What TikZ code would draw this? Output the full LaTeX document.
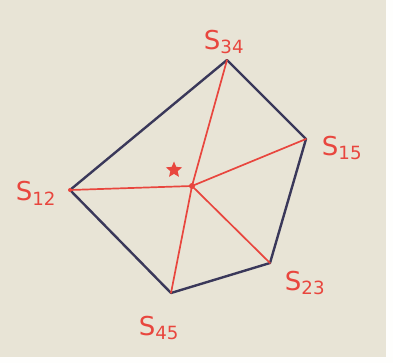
\documentclass[tikz,border=0pt]{standalone}
\usepackage{fontspec}
\setsansfont{DejaVu Sans}
\usetikzlibrary{shapes.geometric}
\definecolor{paper}{RGB}{232,228,214}
\definecolor{ink}{RGB}{58,56,90}
\definecolor{pen}{RGB}{232,70,62}
\tikzset{
  edge/.style={draw=ink, line width=2.4pt, line cap=round, line join=round},
  spoke/.style={draw=pen, line width=1.7pt, line cap=round},
  lbl/.style={text=pen, font=\sffamily\fontsize{26}{26}\selectfont, inner sep=0pt},
  vtx/.style={inner sep=0pt, minimum size=0pt},
}
\begin{document}
\begin{tikzpicture}[x=1pt,y=-1pt]
\fill[white!96!paper] (0,0) rectangle (393,363);
\fill[paper] (0,0) rectangle (386,357);
\useasboundingbox (0,0) rectangle (393,363);
\coordinate (v34) at (227,60);
\coordinate (v15) at (306,139);
\coordinate (v23) at (270,263);
\coordinate (v45) at (171,293);
\coordinate (v12) at (70,190);
\coordinate (c) at (192,186);
\draw[edge] (v12) -- (v34) -- (v15) -- (v23) -- (v45) -- cycle;
\foreach \v in {v12,v34,v15,v23,v45} \draw[spoke] (c) -- (\v);
\fill[pen] (c) circle (3pt);
\fill[pen] (v12) circle (2pt);
\node[star, star points=5, star point ratio=2.2, fill=pen, minimum size=17pt, inner sep=0pt] (star) at (174,170) {};
\node[lbl] (l34) at (224,42) {S\textsubscript{34}};
\node[lbl] (l15) at (342,148) {S\textsubscript{15}};
\node[lbl] (l12) at (36,193) {S\textsubscript{12}};
\node[lbl] (l23) at (305,283) {S\textsubscript{23}};
\node[lbl] (l45) at (159,328) {S\textsubscript{45}};
\end{tikzpicture}
\end{document}
